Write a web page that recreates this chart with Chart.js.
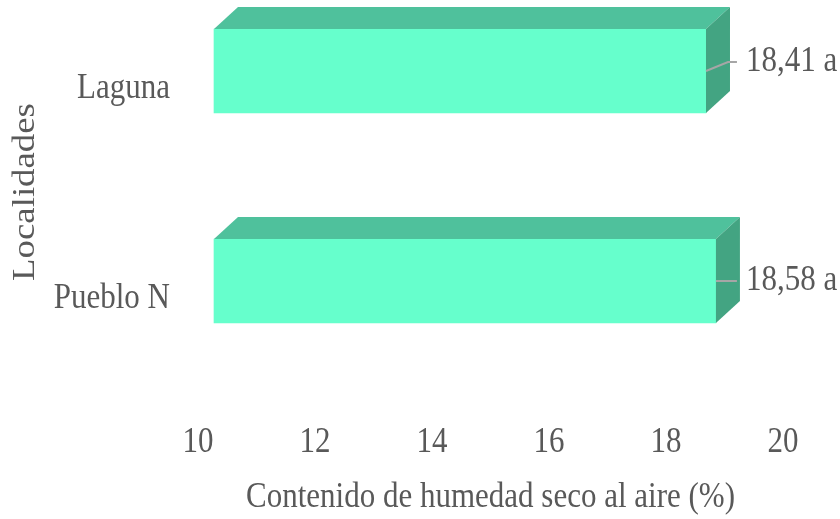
<!DOCTYPE html>
<html lang="es">
<head>
<meta charset="utf-8">
<title>Contenido de humedad por localidad</title>
<script src="https://cdn.jsdelivr.net/npm/chart.js@4.4.1/dist/chart.umd.min.js"></script>
<style>
    html, body { margin: 0; padding: 0; background: #fff; }
    #contenedor { position: relative; width: 840px; height: 519px; }
</style>
</head>
<body>
<div id="contenedor"><canvas id="grafico"></canvas></div>
<script>
// Datos
const localidades = ['Laguna', 'Pueblo N'];
const valores = [18.41, 18.58];
const letras = ['a', 'a'];
const ticksX = [10, 12, 14, 16, 18, 20];
const tituloX = 'Contenido de humedad seco al aire (%)';
const tituloY = 'Localidades';

const FUENTE = '"Liberation Serif", "Times New Roman", serif';
const TAM = 31;
const ESTIRA = 1.15;            // letra algo más alta que ancha
const GRIS = '#595959';
const FRENTE = '#66FFCC';
const TAPA = '#4FC19C';
const LADO = '#43A482';
const PROF_X = 24, PROF_Y = 22; // profundidad de las barras 3D
const DESPLAZ = 16;             // corrimiento de los textos por la perspectiva

// Escribe un texto estirado en vertical, opcionalmente girado
function escribir(ctx, texto, x, y, alinear, girar) {
    ctx.save();
    ctx.translate(x, y);
    ctx.scale(1, ESTIRA);
    if (girar) ctx.rotate(-Math.PI / 2);
    ctx.textAlign = alinear;
    ctx.textBaseline = 'middle';
    ctx.fillText(texto, 0, 0);
    ctx.restore();
}

// Tapa y cara lateral de cada barra
const barras3D = {
    id: 'barras3D',
    afterDatasetsDraw(chart) {
        const ctx = chart.ctx;
        ctx.save();
        chart.getDatasetMeta(0).data.forEach(barra => {
            const { x, y, base, height } = barra.getProps(['x', 'y', 'base', 'height'], true);
            const arriba = y - height / 2;
            const abajo = y + height / 2;

            ctx.fillStyle = TAPA;
            ctx.beginPath();
            ctx.moveTo(base, arriba);
            ctx.lineTo(base + PROF_X, arriba - PROF_Y);
            ctx.lineTo(x + PROF_X, arriba - PROF_Y);
            ctx.lineTo(x, arriba);
            ctx.closePath();
            ctx.fill();

            ctx.fillStyle = LADO;
            ctx.beginPath();
            ctx.moveTo(x, arriba);
            ctx.lineTo(x + PROF_X, arriba - PROF_Y);
            ctx.lineTo(x + PROF_X, abajo - PROF_Y);
            ctx.lineTo(x, abajo);
            ctx.closePath();
            ctx.fill();
        });
        ctx.restore();
    }
};

// Etiquetas de valor con línea guía
const etiquetas = {
    id: 'etiquetas',
    afterDatasetsDraw(chart, args, opts) {
        const ctx = chart.ctx;
        const xTexto = chart.scales.x.getPixelForValue(Math.max(...valores)) + PROF_X + 6;
        ctx.save();
        ctx.font = `${TAM}px ${FUENTE}`;
        chart.getDatasetMeta(0).data.forEach((barra, i) => {
            const { x, y } = barra.getProps(['x', 'y'], true);
            const dy = opts.dy[i] || 0;
            ctx.strokeStyle = '#A6A6A6';
            ctx.lineWidth = 2;
            ctx.beginPath();
            ctx.moveTo(x, y);
            ctx.lineTo(Math.min(x + 22, xTexto - 9), y + dy);
            ctx.lineTo(xTexto - 9, y + dy);
            ctx.stroke();

            ctx.fillStyle = GRIS;
            const texto = valores[i].toFixed(2).replace('.', ',') + ' ' + letras[i];
            escribir(ctx, texto, xTexto, y + dy, 'left', false);
        });
        ctx.restore();
    }
};

// Números de los ejes y títulos
const textosEjes = {
    id: 'textosEjes',
    afterDraw(chart) {
        const { ctx, chartArea } = chart;
        const ex = chart.scales.x;
        const ey = chart.scales.y;
        ctx.save();
        ctx.fillStyle = GRIS;
        ctx.font = `${TAM}px ${FUENTE}`;

        ex.ticks.forEach(t => {
            escribir(ctx, String(t.value), ex.getPixelForValue(t.value) - DESPLAZ, 443, 'center', false);
        });
        localidades.forEach((nombre, i) => {
            escribir(ctx, nombre, chartArea.left - 44, ey.getPixelForValue(i) + 18, 'right', false);
        });

        escribir(ctx, tituloX, (chartArea.left + chartArea.right) / 2 - DESPLAZ, chart.height - 21, 'center', false);
        ctx.font = `32px ${FUENTE}`;
        escribir(ctx, tituloY, 26, (chartArea.top + chartArea.bottom) / 2 + DESPLAZ, 'center', true);
        ctx.restore();
    }
};

new Chart(document.getElementById('grafico'), {
    type: 'bar',
    data: {
        labels: localidades,
        datasets: [{
            data: valores,
            base: 10,
            backgroundColor: FRENTE,
            borderWidth: 0,
            barThickness: 84,
            clip: false
        }]
    },
    options: {
        indexAxis: 'y',
        responsive: true,
        maintainAspectRatio: false,
        animation: false,
        layout: { autoPadding: false, padding: { top: 71, right: 41, left: 0, bottom: 0 } },
        plugins: {
            legend: { display: false },
            tooltip: { enabled: false },
            etiquetas: { dy: [-9, 0] }
        },
        scales: {
            x: {
                min: 10,
                max: 20,
                grid: { display: false, drawTicks: false },
                border: { display: false },
                afterFit: escala => { escala.height = 238; },
                afterBuildTicks: escala => { escala.ticks = ticksX.map(v => ({ value: v })); },
                ticks: { display: false }
            },
            y: {
                offset: false,
                grid: { display: false, drawTicks: false },
                border: { display: false },
                afterFit: escala => { escala.width = 214; },
                ticks: { display: false }
            }
        }
    },
    plugins: [barras3D, etiquetas, textosEjes]
});
</script>
</body>
</html>
